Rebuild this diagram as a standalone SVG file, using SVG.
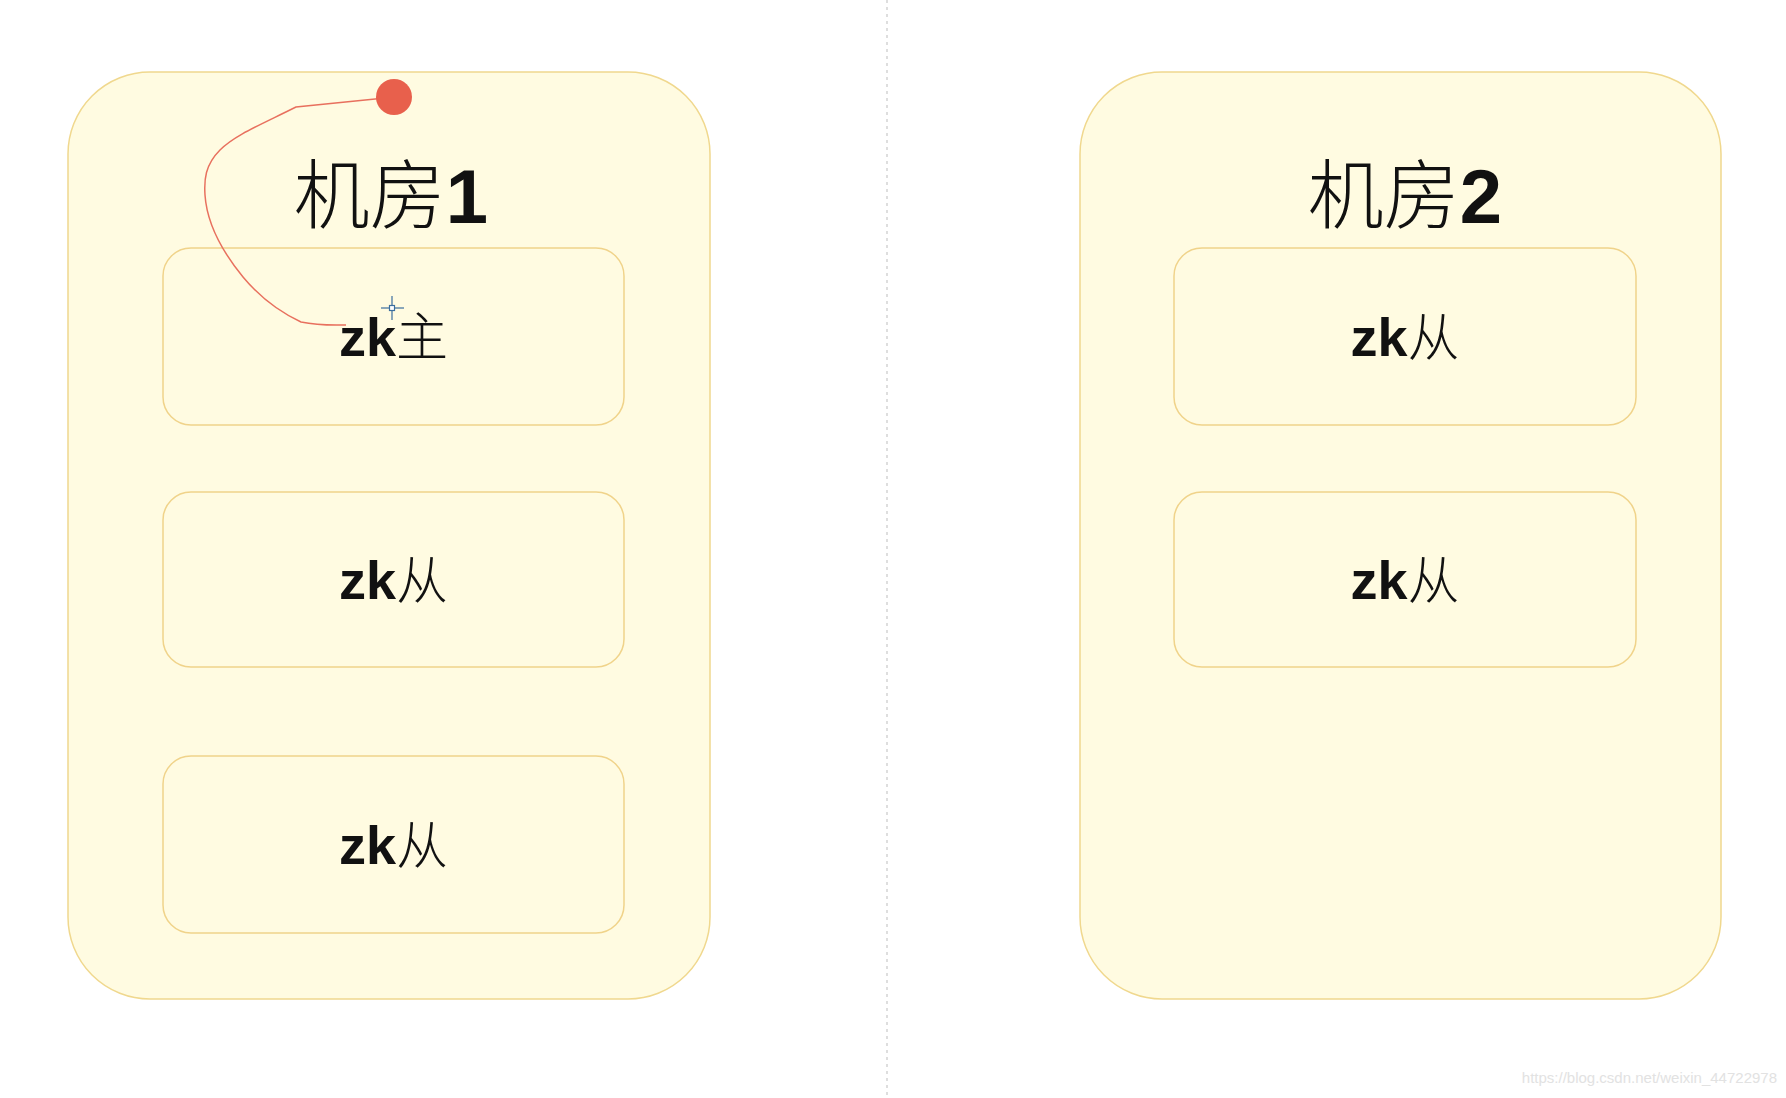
<svg xmlns="http://www.w3.org/2000/svg" width="1786" height="1098" viewBox="0 0 1786 1098">
<style>
.room{fill:#fffbe1;stroke:#f0d88e;stroke-width:1.5}
.zk{fill:#fffbe1;stroke:#f0d38a;stroke-width:1.5}
.title{font-family:"Noto Sans CJK SC",sans-serif;font-size:76px;font-weight:300;fill:#111}
.num{font-family:"Liberation Sans",Arial,sans-serif;font-weight:bold}
.lbl{font-family:"Noto Sans CJK SC",sans-serif;font-size:52px;font-weight:300;fill:#111}
.lat{font-family:"Liberation Sans",Arial,sans-serif;font-weight:bold;font-size:54px}
</style>
<rect width="1786" height="1098" fill="#ffffff"/>
<line x1="887" y1="0" x2="887" y2="1098" stroke="#d4d4d4" stroke-width="1.5" stroke-dasharray="3 4"/>
<g id="room1">
<rect class="room" x="68" y="72" width="642" height="927" rx="82" ry="82"/>
<text class="title" x="391" y="223" text-anchor="middle">机房<tspan class="num">1</tspan></text>
</g>
<g id="room2">
<rect class="room" x="1080" y="72" width="641" height="927" rx="82" ry="82"/>
<text class="title" x="1405" y="223" text-anchor="middle">机房<tspan class="num">2</tspan></text>
</g>
<g id="r1-master">
<rect class="zk" x="163" y="248" width="461" height="177" rx="28" ry="28"/>
<text class="lbl" x="393.5" y="356" text-anchor="middle"><tspan class="lat">zk</tspan>主</text>
</g>
<g id="r1-slave1">
<rect class="zk" x="163" y="492" width="461" height="175" rx="28" ry="28"/>
<text class="lbl" x="393.5" y="599" text-anchor="middle"><tspan class="lat">zk</tspan>从</text>
</g>
<g id="r1-slave2">
<rect class="zk" x="163" y="756" width="461" height="177" rx="28" ry="28"/>
<text class="lbl" x="393.5" y="864" text-anchor="middle"><tspan class="lat">zk</tspan>从</text>
</g>
<g id="r2-slave1">
<rect class="zk" x="1174" y="248" width="462" height="177" rx="28" ry="28"/>
<text class="lbl" x="1405" y="356" text-anchor="middle"><tspan class="lat">zk</tspan>从</text>
</g>
<g id="r2-slave2">
<rect class="zk" x="1174" y="492" width="462" height="175" rx="28" ry="28"/>
<text class="lbl" x="1405" y="599" text-anchor="middle"><tspan class="lat">zk</tspan>从</text>
</g>
<g id="connectors">
<path d="M395,97 L296,107 C260,125 235,135 220,150 C205,165 204,180 205,195 C207,225 225,255 243,277 C258,295 275,310 301,322 C320,326 335,325 346,325" fill="none" stroke="#e8705e" stroke-width="1.5"/>
<circle cx="394" cy="97" r="18" fill="#e8604c"/>
</g>
<g id="cursor" stroke="#3b6e9e" stroke-width="1.2" fill="none">
<line x1="381" y1="308" x2="404" y2="308"/>
<line x1="392" y1="296" x2="392" y2="320"/>
<rect x="389.5" y="305.5" width="5" height="5" fill="#ffffff"/>
</g>
<text x="1777" y="1083" text-anchor="end" font-family="Liberation Sans,Arial,sans-serif" font-size="15" fill="#e2e2e2">https://blog.csdn.net/weixin_44722978</text>
</svg>
